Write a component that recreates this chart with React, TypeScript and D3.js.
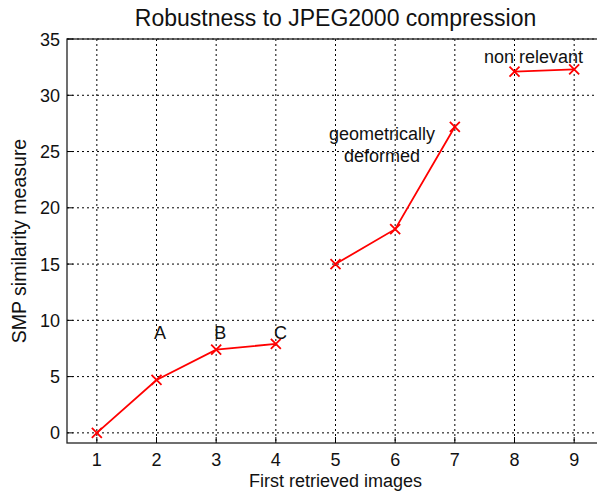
import React from 'react';
import * as d3 from 'd3';

// retrieved image rank and SMP similarity value
const ranks: number[] = [1, 2, 3, 4, 5, 6, 7, 8, 9];
const smpValues: number[] = [0, 4.7, 7.4, 7.9, 15.0, 18.1, 27.2, 32.1, 32.3];
const groups: number[][] = [
  [1, 2, 3, 4],
  [5, 6, 7],
  [8, 9],
];
const xTicks: number[] = [1, 2, 3, 4, 5, 6, 7, 8, 9];
const yTicks: number[] = [0, 5, 10, 15, 20, 25, 30, 35];

interface Note {
  lines: string[];
  x: number;
  y: number;
}
const notes: Note[] = [
  { lines: ['A'], x: 2.06, y: 8.35 },
  { lines: ['B'], x: 3.07, y: 8.35 },
  { lines: ['C'], x: 4.08, y: 8.35 },
  { lines: ['geometrically', 'deformed'], x: 5.78, y: 26.0 },
  { lines: ['non relevant'], x: 8.32, y: 32.9 },
];

const W = 597;
const H = 491;
const margin = { top: 39, right: -7, bottom: 48, left: 67 };

const App = () => {
  const x = d3
    .scaleLinear()
    .domain([0.5, 9.5])
    .range([margin.left, W - margin.right]);
  const y = d3
    .scaleLinear()
    .domain([-0.9, 35])
    .range([H - margin.bottom, margin.top]);

  const line = d3
    .line<number>()
    .x((r) => x(r))
    .y((r) => y(smpValues[r - 1]));

  const font = 'Arial, "Liberation Sans", sans-serif';
  const x0 = x(0.5);
  const x1 = x(9.5);
  const y0 = y(-0.9);
  const y1 = y(35);

  return (
    <svg width={W} height={H} style={{ position: 'absolute', left: 0, top: 0 }} fontFamily={font}>
      <rect width={W} height={H} fill="#fff" />

      {/* grid */}
      {xTicks.map((t) => (
        <line key={'gx' + t} x1={x(t)} x2={x(t)} y1={y1} y2={y0} stroke="#000" strokeWidth={1} strokeDasharray="2,3" />
      ))}
      {yTicks.map((t) => (
        <line key={'gy' + t} x1={x0} x2={x1} y1={y(t)} y2={y(t)} stroke="#000" strokeWidth={1} strokeDasharray="2,3" />
      ))}

      {/* axes box */}
      <rect x={x0} y={y1} width={x1 - x0} height={y0 - y1} fill="none" stroke="#222" strokeWidth={1.3} />
      {xTicks.map((t) => (
        <line key={'tx' + t} x1={x(t)} x2={x(t)} y1={y0} y2={y0 - 6} stroke="#000" />
      ))}
      {yTicks.map((t) => (
        <line key={'ty' + t} x1={x0} x2={x0 + 6} y1={y(t)} y2={y(t)} stroke="#000" />
      ))}

      {/* tick labels */}
      {xTicks.map((t) => (
        <text key={'lx' + t} x={x(t)} y={466} textAnchor="middle" fontSize={18} fill="#111">
          {t}
        </text>
      ))}
      {yTicks.map((t) => (
        <text key={'ly' + t} x={x0 - 7} y={y(t) + 6.5} textAnchor="end" fontSize={18} fill="#111">
          {t}
        </text>
      ))}

      {/* data */}
      {groups.map((g, i) => (
        <path key={'p' + i} d={line(g) || ''} fill="none" stroke="#f00" strokeWidth={1.8} />
      ))}
      {ranks.map((r) => {
        const cx = x(r);
        const cy = y(smpValues[r - 1]);
        const s = 5;
        return (
          <path
            key={'m' + r}
            d={`M${cx - s},${cy - s}L${cx + s},${cy + s}M${cx - s},${cy + s}L${cx + s},${cy - s}`}
            stroke="#f00"
            strokeWidth={1.8}
          />
        );
      })}

      {/* annotations */}
      {notes.map((n, i) => (
        <text key={'n' + i} x={x(n.x)} y={y(n.y)} textAnchor="middle" fontSize={18} fill="#111">
          {n.lines.map((l, j) => (
            <tspan key={j} x={x(n.x)} dy={j === 0 ? 0 : 22}>
              {l}
            </tspan>
          ))}
        </text>
      ))}

      {/* titles */}
      <text x={(x0 + x1) / 2} y={26} textAnchor="middle" fontSize={23} fill="#111">
        Robustness to JPEG2000 compression
      </text>
      <text x={(x0 + x1) / 2} y={487} textAnchor="middle" fontSize={18} fill="#111">
        First retrieved images
      </text>
      <text
        transform={`translate(26,${(y0 + y1) / 2}) rotate(-90)`}
        textAnchor="middle"
        fontSize={19.5}
        fill="#111"
      >
        SMP similarity measure
      </text>
    </svg>
  );
};

export default App;
